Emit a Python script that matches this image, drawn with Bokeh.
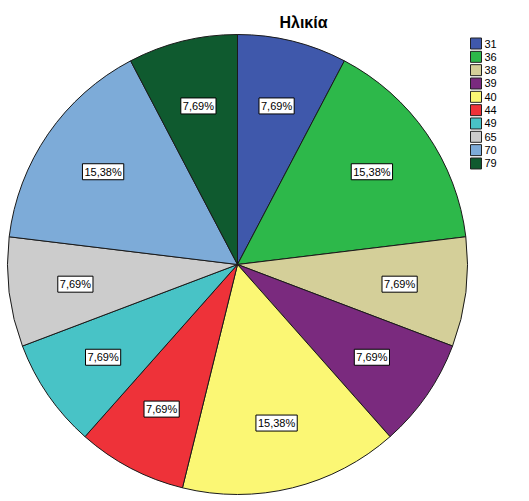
import math

from bokeh.core.properties import value
from bokeh.embed import file_html
from bokeh.models import ColumnDataSource, Range1d
from bokeh.plotting import figure
from bokeh.resources import INLINE

# Ages and how many people have each age
ages = ["31", "36", "38", "39", "40", "44", "49", "65", "70", "79"]
counts = [1, 2, 1, 1, 2, 1, 1, 1, 2, 1]
colors = ["#3F58AB", "#2DB84A", "#D4CF99", "#7A2A7E", "#FBF774",
          "#EE3239", "#48C3C6", "#CCCCCC", "#7DABD8", "#0F5A2F"]
title = "Ηλικία"

W, H = 529, 501
cx, cy, r = 237, 237, 230

total = sum(counts)
starts, ends, lx, ly, labels = [], [], [], [], []
acc = 0
for c in counts:
    a0 = math.pi / 2 - 2 * math.pi * acc / total
    a1 = math.pi / 2 - 2 * math.pi * (acc + c) / total
    mid = (a0 + a1) / 2
    starts.append(a0)
    ends.append(a1)
    lx.append(cx + 0.71 * r * math.cos(mid))
    ly.append(cy + 0.71 * r * math.sin(mid))
    labels.append(("%.2f%%" % (100.0 * c / total)).replace(".", ","))
    acc += c

src = ColumnDataSource(dict(age=ages, start=starts, end=ends, color=colors,
                            lx=lx, ly=ly, label=labels))

p = figure(width=W, height=H, output_backend="svg", toolbar_location=None,
           x_range=Range1d(0, W), y_range=Range1d(0, H), min_border=0)
p.axis.visible = False
p.grid.visible = False
p.outline_line_color = None
p.background_fill_color = "white"

p.wedge(x=cx, y=cy, radius=r, start_angle="start", end_angle="end",
        direction="clock", fill_color="color", line_color="#1a1a1a",
        line_width=1, source=src)

# percent labels in white boxes
p.text(x="lx", y="ly", text="label", source=src, text_align="center",
       text_baseline="middle", text_font=value("Liberation Sans"),
       text_font_size="11px", text_color="black",
       background_fill_color="white", border_line_color="black",
       border_line_width=1, padding=[2, 2])

# title
p.text(x=[303], y=[479], text=[title], text_align="center",
       text_baseline="middle", text_font=value("Liberation Sans"),
       text_font_size="16px", text_font_style="bold", text_color="black")

# legend
leg = ColumnDataSource(dict(
    x=[475.5] * len(ages),
    y=[458 - 13.33 * i for i in range(len(ages))],
    tx=[484] * len(ages),
    age=ages, color=colors))
p.scatter(x="x", y="y", marker="square", size=11, fill_color="color",
          line_color="#222222", line_width=1, source=leg)
p.text(x="tx", y="y", text="age", source=leg, text_align="left",
       text_baseline="middle", text_font=value("Liberation Sans"),
       text_font_size="11px", text_color="black")

open("out.html", "w").write(file_html(p, INLINE))
